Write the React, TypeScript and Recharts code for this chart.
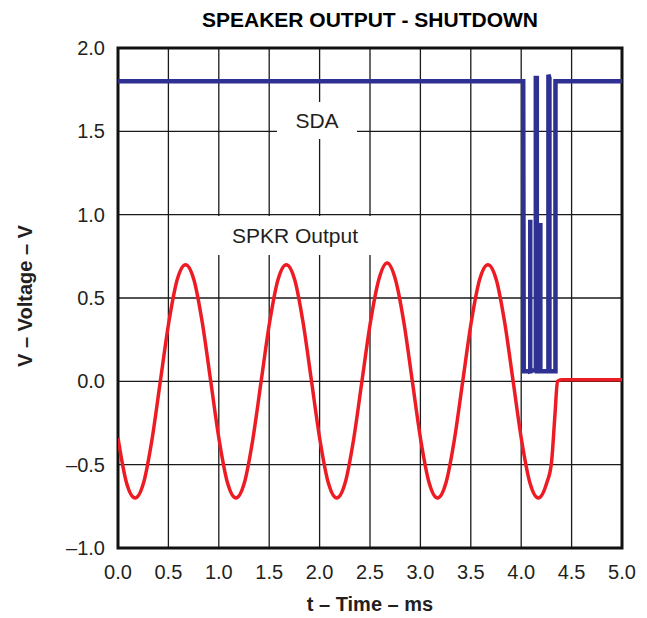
import { LineChart, Line, XAxis, YAxis, CartesianGrid, ReferenceArea } from 'recharts'

const xTicks = [0, 0.5, 1, 1.5, 2, 2.5, 3, 3.5, 4, 4.5, 5]
const yTicks = [-1, -0.5, 0, 0.5, 1, 1.5, 2]

const spkrTime = [
  0, 0.085,
  0.17, 0.253, 0.337, 0.42, 0.503, 0.587, 0.67, 0.753, 0.837, 0.92, 1.003, 1.087,
  1.17, 1.253, 1.337, 1.42, 1.503, 1.587, 1.67, 1.753, 1.837, 1.92, 2.003, 2.087,
  2.17, 2.253, 2.337, 2.42, 2.503, 2.587, 2.67, 2.753, 2.837, 2.92, 3.003, 3.087,
  3.17, 3.253, 3.337, 3.42, 3.503, 3.587, 3.67, 3.753, 3.837, 3.92, 4.003, 4.087,
  4.17, 4.253, 4.3, 4.335, 4.36, 4.4, 4.6, 4.8, 5.0,
]
const spkrVolt = [
  -0.34, -0.61,
  -0.7, -0.61, -0.35, 0, 0.35, 0.61, 0.7, 0.61, 0.35, 0, -0.35, -0.61,
  -0.7, -0.61, -0.35, 0, 0.35, 0.61, 0.7, 0.61, 0.35, 0, -0.35, -0.61,
  -0.7, -0.61, -0.35, 0, 0.35, 0.61, 0.71, 0.61, 0.35, 0, -0.35, -0.61,
  -0.7, -0.61, -0.35, 0, 0.35, 0.61, 0.7, 0.61, 0.35, 0, -0.35, -0.61,
  -0.7, -0.61, -0.49, -0.2, 0.0, 0.01, 0.01, 0.01, 0.01,
]

const sdaTime = [
  0, 4.02, 4.025, 4.09, 4.09, 4.09, 4.145, 4.145, 4.155, 4.155, 4.19, 4.19, 4.19,
  4.27, 4.27, 4.28, 4.28, 4.34, 4.34, 5.0,
]
const sdaVolt = [
  1.8, 1.8, 0.06, 0.06, 0.97, 0.06, 0.07, 1.82, 1.82, 0.06, 0.06, 0.95, 0.06,
  0.06, 1.84, 1.82, 0.06, 0.06, 1.8, 1.8,
]

const spkrData = spkrTime.map((t, i) => ({ t, v: spkrVolt[i] }))
const sdaData = sdaTime.map((t, i) => ({ t, v: sdaVolt[i] }))

const font = '"Liberation Sans", Arial, sans-serif'
const tickStyle = { fill: '#231f20', fontSize: 20, fontFamily: font }

const fmtY = (v: number) => (v < 0 ? '–' + Math.abs(v).toFixed(1) : v.toFixed(1))

export default function App() {
  return (
    <div style={{ position: 'absolute', left: 0, top: 0, width: 647, height: 618, background: '#fff', fontFamily: font }}>
      <LineChart width={647} height={618} data={spkrData} margin={{ top: 48, right: 25, bottom: 40, left: 58 }}>
        <CartesianGrid stroke="#1a1a1a" strokeWidth={1.3} />
        <XAxis
          type="number"
          dataKey="t"
          domain={[0, 5]}
          ticks={xTicks}
          tickFormatter={(v: number) => v.toFixed(1)}
          axisLine={false}
          tickLine={false}
          tickSize={0}
          tickMargin={17}
          height={30}
          tick={tickStyle}
          allowDataOverflow
        />
        <YAxis
          type="number"
          domain={[-1, 2]}
          ticks={yTicks}
          tickFormatter={fmtY}
          axisLine={false}
          tickLine={false}
          tickSize={0}
          tickMargin={13}
          width={60}
          tick={tickStyle}
          allowDataOverflow
        />
        <ReferenceArea x1={0} x2={5} y1={-1} y2={2} fill="none" stroke="#111" strokeWidth={3} />
        <Line data={sdaData} dataKey="v" type="linear" stroke="#2e3192" strokeWidth={4.5} strokeLinejoin="miter" dot={false} isAnimationActive={false} />
        <Line data={spkrData} dataKey="v" type="monotone" stroke="#ed1c24" strokeWidth={3.5} dot={false} isAnimationActive={false} />
      </LineChart>

      {/* titulo y etiquetas */}
      <div style={{ position: 'absolute', left: 118, top: 9, width: 504, textAlign: 'center', fontSize: 21, lineHeight: 1, fontWeight: 'bold', color: '#000' }}>
        SPEAKER OUTPUT - SHUTDOWN
      </div>
      <div style={{ position: 'absolute', left: 118, top: 594, width: 504, textAlign: 'center', fontSize: 20, lineHeight: 1, fontWeight: 'bold', color: '#231f20' }}>
        t – Time – ms
      </div>
      <div style={{ position: 'absolute', left: -75, top: 286, width: 200, height: 20, textAlign: 'center', fontSize: 20, lineHeight: 1, fontWeight: 'bold', color: '#231f20', transform: 'rotate(-90deg)' }}>
        V – Voltage – V
      </div>
      <div style={{ position: 'absolute', left: 277, top: 102, width: 80, height: 37, lineHeight: '37px', textAlign: 'center', fontSize: 21, background: '#fff', color: '#231f20' }}>
        SDA
      </div>
      <div style={{ position: 'absolute', left: 212, top: 216, width: 166, height: 39, lineHeight: '39px', textAlign: 'center', fontSize: 21, background: '#fff', color: '#231f20' }}>
        SPKR Output
      </div>
    </div>
  )
}
